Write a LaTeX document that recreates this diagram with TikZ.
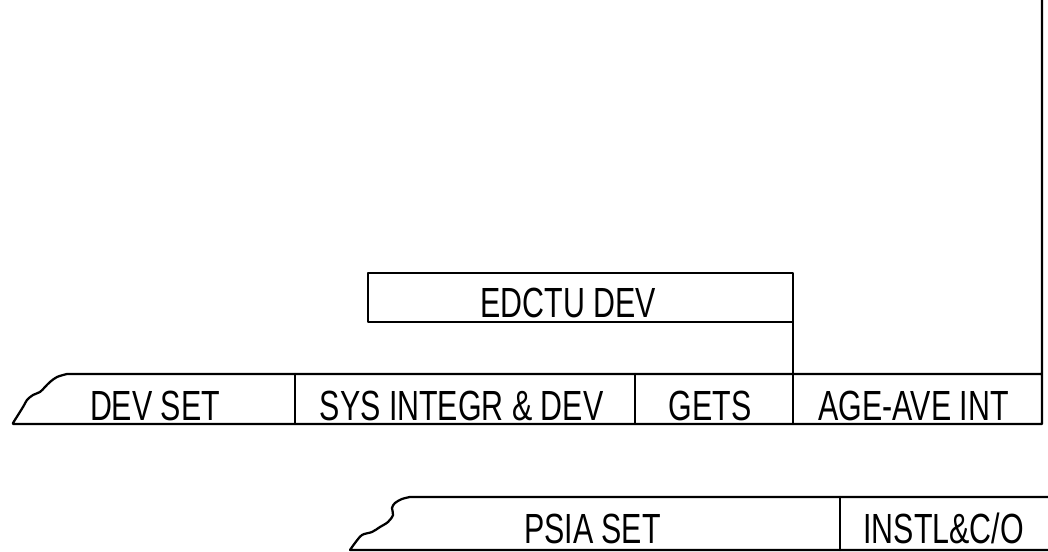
\documentclass[tikz,border=0pt]{standalone}
\usepackage{fontspec}
\newfontfamily\plotfont[FakeStretch=0.72]{Liberation Sans}
\usepackage{tikz}
\usetikzlibrary{positioning,calc}

\begin{document}
\begin{tikzpicture}[
    bar/.style={line width=1.6pt, line join=round, line cap=round},
    lbl/.style={font=\plotfont\fontsize{30}{30}\selectfont, anchor=base, inner sep=0pt}
]
        \useasboundingbox (0,0) rectangle (26.2,13.8);

        % Ligne verticale droite + barre principale (bord dechire a gauche)
        \draw[bar] (26.05,13.8) -- (26.05,3.2) -- (0.325,3.2)
            -- plot[smooth, tension=0.55] coordinates {(0.325,3.225) (0.575,3.625) (0.675,3.8) (0.825,3.925) (1.0,4.0) (1.125,4.125) (1.25,4.25) (1.425,4.375) (1.675,4.45)}
            -- (26.05,4.45);
        \foreach \x in {7.375,15.875,19.825}
            \draw[bar] (\x,3.2) -- (\x,4.45);

        \node[lbl] (devset) at (3.875,3.29) {DEV SET};
        \node[lbl] (sysint) at (11.54,3.29) {SYS INTEGR \& DEV};
        \node[lbl] (gets) at (17.75,3.29) {GETS};
        \node[lbl] (ageave) at (22.84,3.29) {AGE-AVE INT};

        % Boite EDCTU
        \draw[bar] (9.2,5.75) rectangle (19.825,6.975);
        \node[lbl] (edctu) at (14.21,5.86) {EDCTU DEV};
        \coordinate (edctuCorner) at (19.825,5.75);
        \coordinate (barTop) at (19.825,4.45);
        \draw[bar] (edctuCorner) -- (barTop);

        % Barre inferieure
        \draw[bar] (26.2,1.375) -- (10.25,1.375)
            -- plot[smooth, tension=0.55] coordinates {(10.25,1.375) (10.05,1.325) (9.875,1.225) (9.8,1.1) (9.825,0.925) (9.7,0.75) (9.5,0.625) (9.3,0.5) (9.05,0.425) (8.875,0.225) (8.75,0.05)}
            -- (26.2,0.05);
        \draw[bar] (21.0,0.05) -- (21.0,1.375);

        \node[lbl] (psia) at (14.81,0.2) {PSIA SET};
        \node[lbl] (instl) at (23.59,0.2) {INSTL\&C/O};
    \end{tikzpicture}
\end{document}
